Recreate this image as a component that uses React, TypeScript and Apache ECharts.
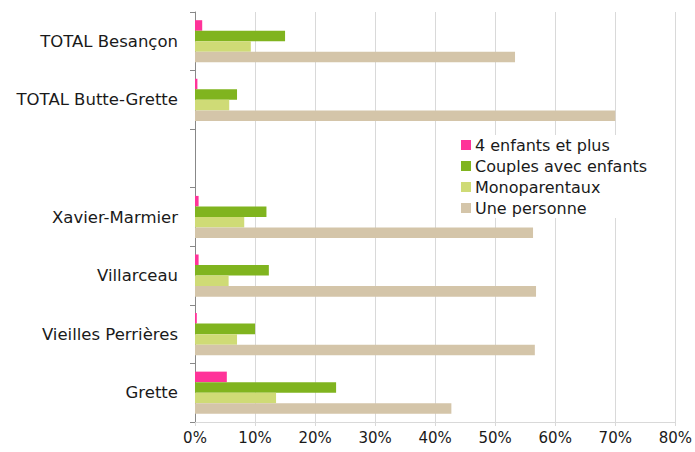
import React, { useEffect, useRef } from "react";
import * as echarts from "echarts";

const categories = ["Grette", "Vieilles Perrières", "Villarceau", "Xavier-Marmier", "", "TOTAL Butte-Grette", "TOTAL Besançon"];
const quatreEnfants = [5.3, 0.3, 0.6, 0.6, null, 0.4, 1.2];
const couplesEnfants = [23.5, 10.0, 12.3, 11.9, null, 7.0, 15.0];
const monoparentaux = [13.5, 7.0, 5.6, 8.2, null, 5.7, 9.3];
const unePersonne = [42.7, 56.6, 56.8, 56.3, null, 70.0, 53.3];
const xTicks = [0, 10, 20, 30, 40, 50, 60, 70, 80];

export default function App() {
  const ref = useRef<HTMLDivElement>(null);
  useEffect(() => {
    if (!ref.current) return;
    const chart = echarts.init(ref.current, null, { renderer: "svg" });
    const font = "DejaVu Sans";
    const bar = (name: string, data: (number | null)[], color: string) => ({
      name,
      type: "bar",
      data,
      barGap: "0%",
      barCategoryGap: "28%",
      itemStyle: { color },
    });
    chart.setOption({
      animation: false,
      backgroundColor: "#ffffff",
      textStyle: { fontFamily: font },
      grid: { left: 195, right: 18, top: 12, bottom: 30, containLabel: false },
      legend: {
        data: ["4 enfants et plus", "Couples avec enfants", "Monoparentaux", "Une personne"],
        orient: "vertical",
        left: 457,
        top: 135,
        itemWidth: 10,
        itemHeight: 10,
        itemGap: 5,
        icon: "rect",
        backgroundColor: "#ffffff",
        padding: [2, 4, 2, 4],
        textStyle: { fontFamily: font, fontSize: 16, color: "#1a1a1a", padding: [0, 0, 0, -1] },
      },
      xAxis: {
        type: "value",
        min: xTicks[0],
        max: xTicks[xTicks.length - 1],
        interval: 10,
        axisLine: { show: true, lineStyle: { color: "#d9d9d9" } },
        axisTick: { show: true, length: 4, lineStyle: { color: "#d9d9d9" } },
        splitLine: { show: true, lineStyle: { color: "#d9d9d9", width: 1 } },
        axisLabel: { formatter: "{value}%", color: "#1a1a1a", fontSize: 15, margin: 8, fontFamily: font },
      },
      yAxis: {
        type: "category",
        data: categories,
        axisLine: { show: true, lineStyle: { color: "#888888" } },
        axisTick: { show: true, length: 5, lineStyle: { color: "#888888" } },
        axisLabel: { color: "#1a1a1a", fontSize: 16.5, margin: 17, fontFamily: font },
      },
      series: [
        bar("4 enfants et plus", quatreEnfants, "#ff3399"),
        bar("Couples avec enfants", couplesEnfants, "#80b41f"),
        bar("Monoparentaux", monoparentaux, "#cfdb76"),
        bar("Une personne", unePersonne, "#d4c5a9"),
      ],
    });
    return () => chart.dispose();
  }, []);
  return <div ref={ref} style={{ width: 695, height: 452, position: "absolute", left: 0, top: 0 }} />;
}
